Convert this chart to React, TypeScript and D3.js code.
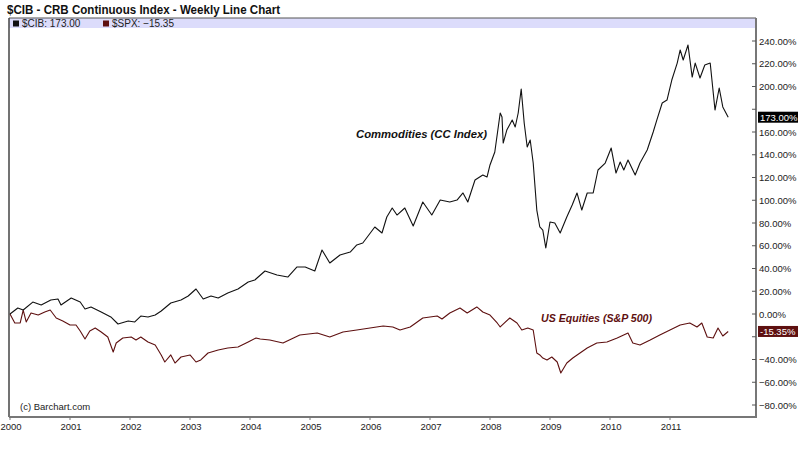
import React from "react";
import * as d3 from "d3";

// ---- Data (decimal year, % change since Jan 2000) ----
const cibDates = [
  2000.0, 2000.13, 2000.22, 2000.38, 2000.52, 2000.68, 2000.8, 2000.85, 2001.02, 2001.17, 2001.25, 2001.35,
  2001.52, 2001.68, 2001.8, 2001.97, 2002.08, 2002.18, 2002.3, 2002.42, 2002.52, 2002.68, 2002.85, 2002.97,
  2003.1, 2003.22, 2003.35, 2003.47, 2003.63, 2003.8, 2003.97, 2004.08, 2004.25, 2004.45, 2004.63, 2004.78,
  2004.92, 2005.08, 2005.2, 2005.33, 2005.5, 2005.67, 2005.78, 2005.88, 2006.08, 2006.2, 2006.28, 2006.37,
  2006.45, 2006.58, 2006.72, 2006.88, 2007.03, 2007.17, 2007.33, 2007.45, 2007.55, 2007.63, 2007.75, 2007.88,
  2007.95, 2008.0, 2008.08, 2008.17, 2008.2, 2008.22, 2008.28, 2008.37, 2008.42, 2008.47, 2008.52, 2008.57,
  2008.62, 2008.67, 2008.72, 2008.78, 2008.83, 2008.88, 2008.93, 2009.0, 2009.08, 2009.17, 2009.28, 2009.37,
  2009.45, 2009.53, 2009.62, 2009.72, 2009.8, 2009.92, 2010.02, 2010.1, 2010.17, 2010.23, 2010.3, 2010.42,
  2010.5, 2010.62, 2010.72, 2010.78, 2010.87, 2010.95, 2011.03, 2011.12, 2011.17, 2011.22, 2011.3, 2011.37,
  2011.42, 2011.5, 2011.58, 2011.67, 2011.75, 2011.82, 2011.88, 2011.97,
];
const cibValues = [
  0, 5.3, 3.5, 10.5, 7.9, 12.3, 13.2, 7.9, 14.1, 10.5, 4.4, 6.2,
  1.8, -2.6, -8.8, -6.2, -7.0, -1.8, -2.6, -0.9, 2.6, 9.7, 12.3, 15.8,
  22.0, 13.2, 15.8, 14.1, 18.5, 22.0, 28.1, 29.9, 37.8, 34.3, 32.5, 41.3,
  41.3, 37.8, 56.3, 44.8, 51.9, 54.5, 60.7, 62.4, 76.5, 71.2, 85.3, 93.2,
  87.0, 93.2, 77.4, 98.5, 87.0, 100.2, 98.5, 100.2, 106.4, 98.5, 117.8, 122.2,
  120.4, 131.0, 142.4, 176.7, 173.2, 150.3, 161.7, 170.5, 164.4, 176.7, 197.8, 167.9,
  146.8, 153.0, 132.7, 91.4, 76.5, 73.8, 58.0, 80.9, 80.0, 71.2, 85.3, 95.8,
  106.4, 91.4, 106.4, 106.4, 126.6, 132.7, 145.9, 123.9, 133.6, 126.6, 135.4, 122.2,
  132.7, 144.2, 160.0, 170.5, 185.5, 188.1, 205.7, 220.6, 232.1, 223.3, 236.5, 208.3,
  220.6, 207.5, 218.9, 220.6, 179.3, 198.7, 182.0, 173.0,
];

const spxDates = [
  2000.0, 2000.08, 2000.17, 2000.22, 2000.27, 2000.35, 2000.47, 2000.58, 2000.67, 2000.77, 2000.88, 2001.0,
  2001.1, 2001.17, 2001.25, 2001.33, 2001.42, 2001.52, 2001.63, 2001.72, 2001.77, 2001.88, 2002.02, 2002.1,
  2002.18, 2002.3, 2002.42, 2002.52, 2002.58, 2002.68, 2002.75, 2002.85, 2003.0, 2003.1, 2003.18, 2003.3,
  2003.47, 2003.63, 2003.8, 2003.97, 2004.1, 2004.17, 2004.33, 2004.55, 2004.83, 2005.12, 2005.33, 2005.55,
  2005.78, 2006.0, 2006.22, 2006.38, 2006.5, 2006.67, 2006.88, 2007.12, 2007.2, 2007.33, 2007.5, 2007.62,
  2007.78, 2007.88, 2008.0, 2008.12, 2008.17, 2008.33, 2008.45, 2008.53, 2008.63, 2008.72, 2008.78, 2008.83,
  2008.88, 2008.95, 2009.03, 2009.12, 2009.18, 2009.28, 2009.38, 2009.5, 2009.62, 2009.78, 2009.95, 2010.12,
  2010.3, 2010.38, 2010.5, 2010.67, 2010.83, 2011.0, 2011.17, 2011.33, 2011.45, 2011.53, 2011.62, 2011.72,
  2011.8, 2011.88, 2011.97,
];
const spxValues = [
  0, -7.9, -7.9, 3.5, -7.0, 0.9, -0.9, 1.8, 3.5, -3.5, -6.2, -9.7,
  -9.7, -14.9, -22.0, -14.9, -12.3, -15.8, -20.2, -33.4, -25.5, -21.1, -20.2, -22.9,
  -20.2, -24.6, -27.3, -36.0, -42.2, -36.0, -43.1, -37.8, -36.0, -42.2, -40.4, -34.3,
  -31.6, -29.9, -29.0, -24.6, -21.1, -22.0, -22.9, -25.5, -18.5, -16.7, -20.2, -15.8,
  -14.1, -12.3, -10.5, -11.4, -14.1, -11.4, -3.5, -1.8, -4.4, 0.9, 5.3, 0.9,
  6.2, 1.8, -0.9, -7.9, -11.4, -3.5, -7.9, -14.1, -12.3, -14.1, -34.3, -36.0,
  -38.7, -40.4, -37.8, -42.2, -51.9, -43.1, -38.7, -34.3, -29.9, -25.5, -24.6, -21.1,
  -16.7, -25.5, -27.3, -22.9, -18.5, -14.1, -9.7, -7.9, -11.4, -7.9, -20.2, -21.1,
  -12.3, -19.3, -15.35,
];

const yearTicks = [2000, 2001, 2002, 2003, 2004, 2005, 2006, 2007, 2008, 2009, 2010, 2011];
const pctTicks = [240, 220, 200, 180, 160, 140, 120, 100, 80, 60, 40, 20, 0, -20, -40, -60, -80];
const hiddenPctLabels = [180, -20];

const title = "$CIB - CRB Continuous Index - Weekly Line Chart";
const cibLegend = "$CIB: 173.00";
const spxLegend = "$SPX: \u221215.35";
const cibTag = "173.00%";
const spxTag = "-15.35%";
const cibNote = "Commodities (CC Index)";
const spxNote = "US Equities (S&P 500)";
const credit = "(c) Barchart.com";

const CIB_COLOR = "#111111";
const SPX_COLOR = "#5e1010";
const FONT = "'Liberation Sans', Arial, Helvetica, sans-serif";

export default function App() {
  const W = 800;
  const H = 454;
  const left = 9;
  const right = 756;
  const top = 18;
  const bottom = 417;

  const x = d3.scaleLinear().domain([2000, 2012]).range([10, 730]);
  const y = d3.scaleLinear().domain([-80, 240]).range([405, 41]);

  const line = d3
    .line<[number, number]>()
    .x((d) => x(d[0]))
    .y((d) => y(d[1]));

  const cibPts = cibDates.map((d, i) => [d, cibValues[i]] as [number, number]);
  const spxPts = spxDates.map((d, i) => [d, spxValues[i]] as [number, number]);

  const cibLast = cibValues[cibValues.length - 1];
  const spxLast = spxValues[spxValues.length - 1];

  return (
    <svg
      width={W}
      height={H}
      style={{ position: "absolute", left: 0, top: 0, background: "#fff" }}
      fontFamily={FONT}
    >
      <rect x={0} y={0} width={W} height={H} fill="#fff" />
      <text x={7} y={14} fontSize={13} fontWeight="bold" fill="#111" textLength={273} lengthAdjust="spacingAndGlyphs">
        {title}
      </text>

      {/* legend band */}
      <rect x={left} y={top} width={right - left} height={10} fill="#dcdcfb" />
      <rect x={13} y={20.5} width={6} height={6} fill={CIB_COLOR} />
      <text x={22} y={27} fontSize={10} fill="#222">{cibLegend}</text>
      <rect x={103} y={20.5} width={6} height={6} fill={SPX_COLOR} />
      <text x={112} y={27} fontSize={10} fill="#222">{spxLegend}</text>

      {/* frame */}
      <line x1={left} x2={right} y1={top} y2={top} stroke="#555" strokeWidth={1} />
      <line x1={left} x2={left} y1={top} y2={bottom} stroke="#444" strokeWidth={1.5} />
      <line x1={left} x2={right + 1} y1={bottom} y2={bottom} stroke="#777" strokeWidth={2} />
      <line x1={right} x2={right} y1={top} y2={bottom} stroke="#777" strokeWidth={2} />

      {/* y ticks */}
      {pctTicks.map((t) => (
        <g key={t}>
          <line x1={right - 4} x2={right} y1={y(t)} y2={y(t)} stroke="#555" />
          {hiddenPctLabels.indexOf(t) < 0 && (
            <text x={759} y={y(t) + 3.5} fontSize={9.5} fill="#222">
              {t.toFixed(2).replace("-", "\u2212") + "%"}
            </text>
          )}
        </g>
      ))}

      {/* x ticks */}
      {yearTicks.map((t) => (
        <g key={t}>
          <line x1={x(t)} x2={x(t)} y1={bottom} y2={bottom + 3} stroke="#777" />
          <text x={x(t) + 1} y={430} fontSize={9.5} fill="#222" textAnchor="middle">
            {t}
          </text>
        </g>
      ))}

      {/* lines */}
      <path d={line(spxPts) || ""} fill="none" stroke={SPX_COLOR} strokeWidth={1.1} strokeLinejoin="round" />
      <path d={line(cibPts) || ""} fill="none" stroke={CIB_COLOR} strokeWidth={1.1} strokeLinejoin="round" />

      {/* annotations */}
      <text x={356} y={138} fontSize={11} fontWeight="bold" fontStyle="italic" fill="#111" textLength={131} lengthAdjust="spacingAndGlyphs">
        {cibNote}
      </text>
      <text x={541} y={322} fontSize={11} fontWeight="bold" fontStyle="italic" fill={SPX_COLOR} textLength={111} lengthAdjust="spacingAndGlyphs">
        {spxNote}
      </text>
      <text x={20} y={410} fontSize={9.5} fill="#222">{credit}</text>

      {/* last value tags */}
      <rect x={758} y={y(cibLast) - 5.5} width={40} height={11} fill="#000" />
      <text x={760} y={y(cibLast) + 3.5} fontSize={9.5} fill="#fff">{cibTag}</text>
      <rect x={758} y={y(spxLast) - 5.5} width={40} height={11} fill={SPX_COLOR} />
      <text x={760} y={y(spxLast) + 3.5} fontSize={9.5} fill="#fff">{spxTag}</text>
    </svg>
  );
}
